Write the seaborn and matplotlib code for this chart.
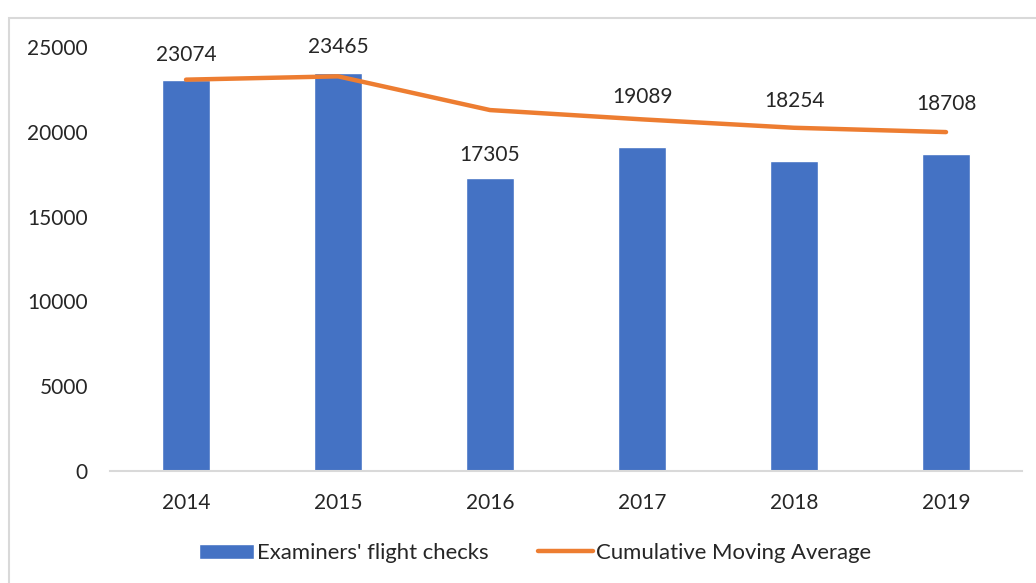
import numpy as np
import pandas as pd
import matplotlib.pyplot as plt
import seaborn as sns
from matplotlib.patches import Rectangle

years = ["2014", "2015", "2016", "2017", "2018", "2019"]
flight_checks = [23074, 23465, 17305, 19089, 18254, 18708]
moving_avg = [23074, 23270, 21281, 20733, 20237, 19983]
y_ticks = [0, 5000, 10000, 15000, 20000, 25000]
# label offset above bar top, in pixels
label_offsets = [25, 26, 23, 50, 60, 50]

sns.set_style("white")
plt.rcParams['font.family'] = ['Lato', 'DejaVu Sans']

df = pd.DataFrame({"year": years, "checks": flight_checks, "cma": moving_avg})

fig = plt.figure(figsize=(10.36, 5.83), dpi=100)
ax = fig.add_axes([0.1062, 0.1921, 0.8803, 0.7273])

sns.barplot(data=df, x="year", y="checks", color="#4472C4", width=0.315,
            saturation=1, ax=ax, label="Examiners' flight checks")
sns.lineplot(x=np.arange(len(years)), y=df["cma"], color="#ED7D31", linewidth=3.2,
             ax=ax, label="Cumulative Moving Average")

for i, v in enumerate(flight_checks):
    ax.annotate(str(v), (i, v), xytext=(0, label_offsets[i] * 0.72),
                textcoords="offset points", ha="center", va="center", fontsize=15)

ax.set_xlim(-0.5, 5.5)
ax.set_ylim(0, 25000)
ax.set_yticks(y_ticks)
ax.set_yticklabels([str(t) for t in y_ticks], fontsize=15)
ax.set_xticks(range(len(years)))
ax.set_xticklabels(years, fontsize=15)
ax.tick_params(axis="both", length=0)
ax.tick_params(axis="y", pad=16)
ax.tick_params(axis="x", pad=16)
ax.set_xlabel("")
ax.set_ylabel("")
for s in ["top", "right", "left"]:
    ax.spines[s].set_visible(False)
ax.spines["bottom"].set_color("#D9D9D9")
ax.spines["bottom"].set_linewidth(1.5)

# bars first, then line, as in the reference legend
handles, labels = ax.get_legend_handles_labels()
order = [labels.index("Examiners' flight checks"), labels.index("Cumulative Moving Average")]
ax.legend([handles[k] for k in order], [labels[k] for k in order],
          loc="center", bbox_to_anchor=(535 / 1036, 1 - 553 / 583),
          bbox_transform=fig.transFigure, ncol=2, frameon=False, fontsize=15.9,
          handlelength=2.5, handleheight=0.65, handletextpad=0.15, columnspacing=2.2)

# light outer frame (cropped at right and bottom)
fig.patches.append(Rectangle((9 / 1036, -0.1), 1.2, (583 - 18) / 583 + 0.1,
                             transform=fig.transFigure, fill=False,
                             edgecolor="#D9D9D9", linewidth=1.5, clip_on=False))

fig.savefig("out.png", dpi=100)
